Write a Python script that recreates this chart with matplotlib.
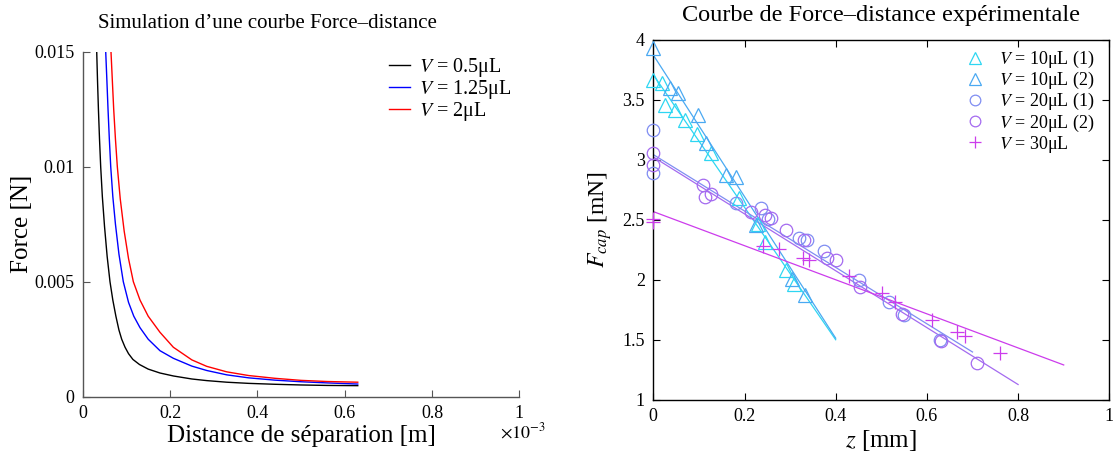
import numpy as np
import matplotlib
matplotlib.use("Agg")
import matplotlib.pyplot as plt

plt.rcParams['font.family'] = ['Liberation Serif', 'DejaVu Serif']
plt.rcParams['mathtext.fontset'] = 'stix'

# ---------------- simulated force-distance curves (distance in 1e-3 m, force in N)
d_05 = [0.0321, 0.0340, 0.0360, 0.0385, 0.0412, 0.0450, 0.0500, 0.0560, 0.0625, 0.0690,
        0.0760, 0.0830, 0.0893, 0.0970, 0.1050, 0.1150, 0.1300, 0.1500, 0.1770, 0.2080,
        0.2500, 0.2840, 0.3300, 0.3800, 0.4400, 0.5000, 0.5600, 0.6300]
f_05 = [0.0150, 0.0137, 0.0125, 0.0112, 0.0100, 0.0087, 0.0074, 0.0061, 0.0050, 0.0042,
        0.0035, 0.0029, 0.0025, 0.00215, 0.00187, 0.00162, 0.00140, 0.00120, 0.00103, 0.00090,
        0.00077, 0.00070, 0.00063, 0.00058, 0.00054, 0.00051, 0.00049, 0.00048]

d_125 = [0.0527, 0.0555, 0.0580, 0.0610, 0.0642, 0.0690, 0.0750, 0.0830, 0.0930, 0.1050,
         0.1170, 0.1313, 0.1500, 0.1770, 0.2076, 0.2500, 0.2840, 0.3300, 0.3800, 0.4400,
         0.5000, 0.5600, 0.6300]
f_125 = [0.0150, 0.0137, 0.0125, 0.0112, 0.0100, 0.0087, 0.0075, 0.0062, 0.0050, 0.0041,
         0.0035, 0.0030, 0.0025, 0.0020, 0.00167, 0.00133, 0.00114, 0.00095, 0.00082, 0.00072,
         0.00065, 0.00060, 0.00055]

d_2 = [0.0648, 0.0680, 0.0710, 0.0750, 0.0793, 0.0860, 0.0950, 0.1050, 0.1160, 0.1313,
       0.1500, 0.1770, 0.2076, 0.2500, 0.2840, 0.3300, 0.3800, 0.4400, 0.5000, 0.5600,
       0.6300]
f_2 = [0.0150, 0.0137, 0.0125, 0.0112, 0.0100, 0.0086, 0.0072, 0.0060, 0.0050, 0.0042,
       0.0035, 0.0028, 0.00215, 0.0016, 0.00132, 0.00108, 0.00092, 0.00080, 0.00071, 0.00066,
       0.00063]

sim_labels = [r'$V$ = 0.5μL', r'$V$ = 1.25μL', r'$V$ = 2μL']

# ---------------- experimental measurements (z in mm, F_cap in mN)
z_10a = [0.0, 0.018, 0.026, 0.047, 0.069, 0.095, 0.127, 0.189, 0.229, 0.246, 0.290, 0.308]
f_10a = [3.67, 3.64, 3.46, 3.42, 3.33, 3.22, 3.06, 2.68, 2.47, 2.32, 2.08, 1.97]

z_10b = [0.0, 0.036, 0.055, 0.098, 0.116, 0.160, 0.182, 0.225, 0.304, 0.332]
f_10b = [3.93, 3.60, 3.56, 3.375, 3.14, 2.875, 2.86, 2.46, 2.01, 1.875]

z_20a = [0.0, 0.0, 0.182, 0.236, 0.251, 0.320, 0.338, 0.374, 0.451, 0.516, 0.549, 0.629]
f_20a = [3.25, 2.89, 2.64, 2.60, 2.51, 2.35, 2.33, 2.24, 2.00, 1.82, 1.71, 1.50]

z_20b = [0.0, 0.0, 0.109, 0.113, 0.127, 0.215, 0.244, 0.258, 0.291, 0.331, 0.382, 0.400,
         0.454, 0.545, 0.632, 0.709]
f_20b = [3.06, 2.96, 2.79, 2.69, 2.72, 2.57, 2.54, 2.52, 2.42, 2.33, 2.18, 2.17,
         1.94, 1.72, 1.49, 1.305]

z_30 = [0.0, 0.0, 0.240, 0.276, 0.328, 0.342, 0.429, 0.502, 0.531, 0.611, 0.665, 0.684, 0.760]
f_30 = [2.51, 2.48, 2.28, 2.26, 2.18, 2.17, 2.03, 1.89, 1.82, 1.67, 1.57, 1.53, 1.39]

# linear fits: (intercept, slope, last z)
fit_10a = (3.71, -5.52, 0.40)
fit_10b = (3.875, -5.90, 0.40)
fit_20a = (3.045, -2.35, 0.70)
fit_20b = (3.025, -2.37, 0.80)
fit_30 = (2.57, -1.42, 0.90)

exp_labels = [r'$V$ = 10μL (1)', r'$V$ = 10μL (2)', r'$V$ = 20μL (1)',
              r'$V$ = 20μL (2)', r'$V$ = 30μL']

W, H = 1116, 454
fig = plt.figure(figsize=(W / 100, H / 100), dpi=100)

# ---------------- left panel
axL = fig.add_axes([82.7 / W, 1 - 396.7 / H, 436.6 / W, 345.0 / H])
for d, f, c, lab in [(d_05, f_05, 'black', sim_labels[0]),
                     (d_125, f_125, 'blue', sim_labels[1]),
                     (d_2, f_2, 'red', sim_labels[2])]:
    axL.plot(np.array(d) * 1e-3, f, color=c, lw=1.0, label=lab)
axL.set_xlim(0, 1e-3)
axL.set_ylim(0, 0.015)
axL.set_xticks(np.arange(0, 1.01, 0.2) * 1e-3)
axL.set_xticklabels(['0', '0.2', '0.4', '0.6', '0.8', '1'])
axL.set_yticks([0, 0.005, 0.01, 0.015])
axL.set_yticklabels(['0', '0.005', '0.01', '0.015'])
for s in ['top', 'right']:
    axL.spines[s].set_visible(False)
for s in ['left', 'bottom']:
    axL.spines[s].set_color('#555555')
    axL.spines[s].set_linewidth(1.0)
axL.tick_params(direction='in', length=5, labelsize=13, color='#555555', pad=6)
axL.set_xlabel('Distance de séparation [m]', fontsize=18, labelpad=2)
axL.set_ylabel('Force [N]', fontsize=18, labelpad=1)
axL.text(0.422, 1.055, 'Simulation d’une courbe Force–distance', transform=axL.transAxes,
         ha='center', va='bottom', fontsize=15)
axL.text(1.06, -0.075, r'$\times10^{-3}$', transform=axL.transAxes, ha='right', va='top',
         fontsize=13)
axL.legend(loc='upper right', bbox_to_anchor=(1.02, 1.035), frameon=False, fontsize=14.5,
           handlelength=1.05, handletextpad=0.45, labelspacing=-0.05, borderpad=0.3)

# ---------------- right panel
axR = fig.add_axes([653.3 / W, 1 - 400.0 / H, 456.0 / W, 360.0 / H])
cols = ['#2ed6f2', '#4aa9f2', '#7f8df2', '#a46af0', '#cc3cec']
series = [(z_10a, f_10a, '^', fit_10a), (z_10b, f_10b, '^', fit_10b),
          (z_20a, f_20a, 'o', fit_20a), (z_20b, f_20b, 'o', fit_20b),
          (z_30, f_30, '+', fit_30)]
for (z, f, m, fit), c, lab in zip(series, cols, exp_labels):
    ms = 10 if m == '^' else (9 if m == 'o' else 10)
    axR.plot(z, f, linestyle='none', marker=m, ms=ms, mfc='none', mec=c, mew=0.9,
             label=lab, clip_on=False, zorder=3)
    b0, b1, zmax = fit
    zz = np.array([0.0, zmax])
    axR.plot(zz, b0 + b1 * zz, color=c, lw=0.9)
axR.set_xlim(0, 1)
axR.set_ylim(1, 4)
axR.set_xticks(np.arange(0, 1.01, 0.2))
axR.set_xticklabels(['0', '0.2', '0.4', '0.6', '0.8', '1'])
axR.set_yticks(np.arange(1, 4.01, 0.5))
axR.set_yticklabels(['1', '1.5', '2', '2.5', '3', '3.5', '4'])
axR.tick_params(direction='in', length=5, labelsize=13, top=True, right=True, pad=6)
for s in axR.spines.values():
    s.set_linewidth(1.0)
axR.set_xlabel(r'$z$ [mm]', fontsize=18, labelpad=2)
axR.set_ylabel(r'$F_{cap}$ [mN]', fontsize=17, labelpad=6)
axR.text(0.5, 1.053, 'Courbe de Force–distance expérimentale', transform=axR.transAxes,
         ha='center', va='baseline', fontsize=17.5)
axR.legend(loc='upper right', bbox_to_anchor=(1.0, 1.015), frameon=False, fontsize=13,
           handlelength=1.2, handletextpad=0.75, labelspacing=0.0, borderpad=0.3,
           markerscale=0.85)

fig.savefig('out.png', dpi=100)
